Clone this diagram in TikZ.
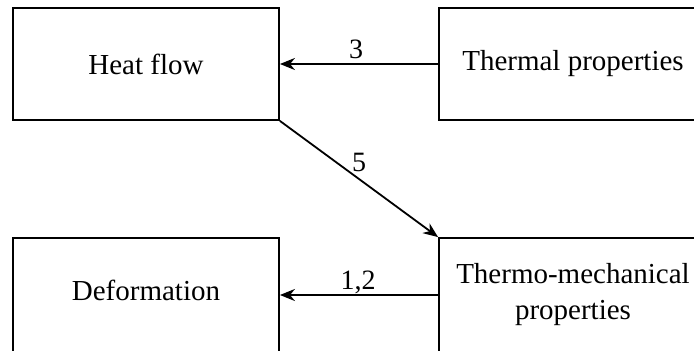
\documentclass[tikz,border=0pt]{standalone}
\usepackage{fontspec}
\setmainfont{Liberation Serif}
\usetikzlibrary{arrows.meta}
\begin{document}
\begin{tikzpicture}[x=1pt,y=-1pt,
  blockbox/.style={draw=black, line width=1.8pt, minimum width=266pt, minimum height=112pt,
    inner sep=0pt, align=center, font=\fontsize{29}{36}\selectfont},
  link/.style={draw=black, line width=1.8pt, -{Stealth[length=15pt,width=12pt]}},
  tag/.style={font=\fontsize{28}{30}\selectfont, inner sep=0pt, anchor=base}]
  \useasboundingbox (0,0) rectangle (694,351);
  \clip (0,0) rectangle (694,351);
  \fill[white] (0,0) rectangle (694,351);
  % the four blocks
  \node[blockbox] (hf) at (146,64) {Heat flow};
  \node[blockbox, minimum width=268pt] (tp) at (573,64) {Thermal properties};
  \node[blockbox, minimum height=114pt, text depth=9pt] (df) at (146,295) {Deformation};
  \node[blockbox, minimum width=268pt, minimum height=114pt] (tm) at (573,295) {Thermo-mechanical\\properties};
  % influences between them
  \draw[link] (tp.west) -- node[tag, xshift=-3pt, yshift=6pt] {3} (hf.east);
  \draw[link] (hf.south east) -- node[tag, yshift=8pt] {5} (tm.north west);
  \draw[link] (tm.west) -- node[tag, xshift=-1pt, yshift=6pt] {1,2} (df.east);
\end{tikzpicture}
\end{document}
